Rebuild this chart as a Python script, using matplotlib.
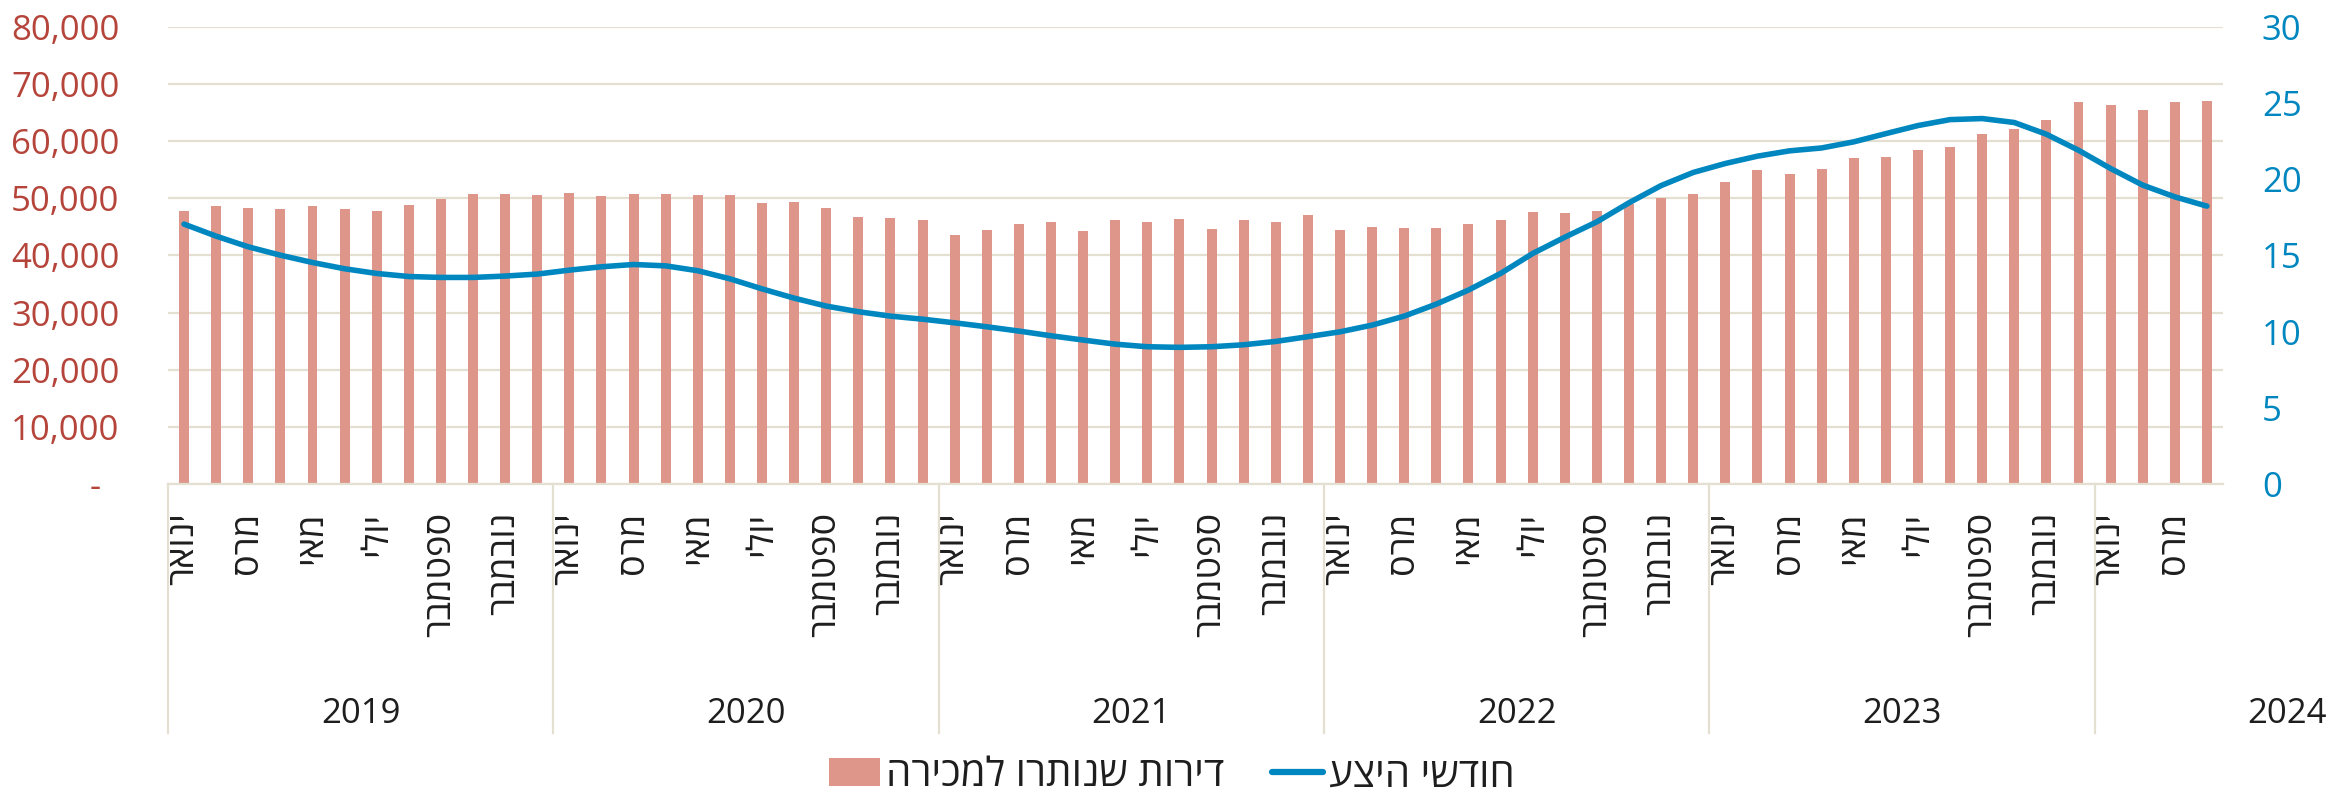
""" Unsold new apartments vs. months of supply, Jan 2019 - Apr 2024 """

import numpy as np
from matplotlib import pyplot as plt
from matplotlib.lines import Line2D
from matplotlib.patches import Patch
from matplotlib.ticker import FuncFormatter

plt.rcParams['font.family'] = ['Open Sans', 'DejaVu Sans']

# Data
YEARS = ['2019', '2020', '2021', '2022', '2023', '2024']
MONTHS = ['ינואר', 'פברואר', 'מרס', 'אפריל', 'מאי', 'יוני',
          'יולי', 'אוגוסט', 'ספטמבר', 'אוקטובר', 'נובמבר', 'דצמבר']
MONTHS_PER_YEAR = [12, 12, 12, 12, 12, 4]

# apartments left for sale (units)
UNSOLD = [47800, 48700, 48300, 48100, 48600, 48200, 47800, 48900, 49900, 50800, 50800, 50600,
          51000, 50400, 50700, 50700, 50600, 50600, 49200, 49300, 48300, 46800, 46500, 46300,
          43600, 44500, 45500, 45900, 44300, 46200, 45900, 46400, 44700, 46300, 45900, 47100,
          44500, 45000, 44800, 44800, 45500, 46200, 47600, 47500, 47800, 49000, 50000, 50800,
          52800, 55000, 54300, 55200, 57000, 57200, 58400, 59000, 61300, 62200, 63700, 66800,
          66400, 65400, 66900, 67100]

# months of supply
SUPPLY = [17.06, 16.27, 15.57, 15.02, 14.54, 14.13, 13.82, 13.62, 13.56, 13.56, 13.65, 13.78,
          14.04, 14.26, 14.41, 14.32, 14.00, 13.47, 12.81, 12.20, 11.68, 11.31, 11.02, 10.82,
          10.58, 10.32, 10.04, 9.73, 9.45, 9.18, 9.01, 8.97, 9.01, 9.14, 9.36, 9.67,
          9.99, 10.43, 11.02, 11.81, 12.73, 13.82, 15.13, 16.20, 17.21, 18.46, 19.59, 20.45,
          21.04, 21.52, 21.87, 22.06, 22.46, 23.00, 23.53, 23.92, 23.99, 23.73, 22.96, 21.91,
          20.71, 19.62, 18.85, 18.24]

LABEL_UNSOLD = 'דירות שנותרו למכירה'
LABEL_SUPPLY = 'חודשי היצע'

BAR_COLOR = '#DE968A'
LINE_COLOR = '#0087BF'
LEFT_TICK_COLOR = '#B5443A'
GRID_COLOR = '#E4E0D1'
TEXT_COLOR = '#1E1E1E'
FS = 25


def heb(s):
    """ matplotlib has no bidi support, so flip Hebrew text for display """
    return s[::-1]


def main():
    W, H = 2328, 794
    fig = plt.figure(figsize=(W / 100, H / 100), dpi=100)
    left, right, top, bottom = 168, 2223, 27, 484
    ax = fig.add_axes([left / W, 1 - bottom / H, (right - left) / W, (bottom - top) / H])

    x = np.arange(len(UNSOLD))
    ax.bar(x, UNSOLD, width=0.31, color=BAR_COLOR, zorder=2)
    ax.set_xlim(-0.5, len(UNSOLD) - 0.5)
    ax.set_ylim(0, 80000)
    ax.set_yticks(np.arange(0, 80001, 10000))
    # accounting style: zero shown as a dash set in from the right
    ax.yaxis.set_major_formatter(FuncFormatter(lambda v, p: '-  ' if v == 0 else f'{int(v):,}'))
    ax.grid(axis='y', color=GRID_COLOR, lw=1.6, zorder=0)
    for s in ['top', 'left', 'right']:
        ax.spines[s].set_visible(False)
    ax.spines['bottom'].set_color(GRID_COLOR)
    ax.spines['bottom'].set_linewidth(1.6)
    ax.tick_params(axis='y', length=0, pad=35, labelsize=FS, labelcolor=LEFT_TICK_COLOR)

    # month labels - every other month, like the original
    month_labels = []
    for n in MONTHS_PER_YEAR:
        for i in range(n):
            month_labels.append(heb(MONTHS[i]) if i % 2 == 0 else '')
    ax.set_xticks(x)
    ax.set_xticklabels(month_labels, rotation=90, va='top', ha='center')
    ax.tick_params(axis='x', length=0, pad=20, labelsize=26, labelcolor=TEXT_COLOR)

    # year labels and group separators
    start = 0
    for year, n in zip(YEARS, MONTHS_PER_YEAR):
        ax.add_line(Line2D([start - 0.5, start - 0.5], [0, -0.545], color=GRID_COLOR, lw=1.6,
                           transform=ax.get_xaxis_transform(), clip_on=False))
        ax.text(start + 5.5, -0.503, year, transform=ax.get_xaxis_transform(),
                ha='center', va='center', fontsize=FS, color=TEXT_COLOR)
        start += n

    ax2 = ax.twinx()
    ax2.plot(x, SUPPLY, color=LINE_COLOR, lw=4.0, solid_capstyle='round', solid_joinstyle='round', zorder=3)
    ax2.set_ylim(0, 30)
    ax2.set_yticks(np.arange(0, 31, 5))
    for s in ax2.spines.values():
        s.set_visible(False)
    ax2.tick_params(axis='y', length=0, pad=28, labelsize=FS, labelcolor=LINE_COLOR)

    handles = [Patch(facecolor=BAR_COLOR, edgecolor='none'),
               Line2D([0], [0], color=LINE_COLOR, lw=4.5, solid_capstyle='round')]
    fig.legend(handles, [heb(LABEL_UNSOLD), heb(LABEL_SUPPLY)], loc='center',
               bbox_to_anchor=(1172 / W, 1 - 776 / H), ncol=2, frameon=False,
               fontsize=29, handlelength=1.25, handletextpad=0.15, columnspacing=1.2,
               labelcolor=TEXT_COLOR)

    fig.savefig('out.png', dpi=100)
    print('Finished generating chart.')


if __name__ == '__main__':
    main()
